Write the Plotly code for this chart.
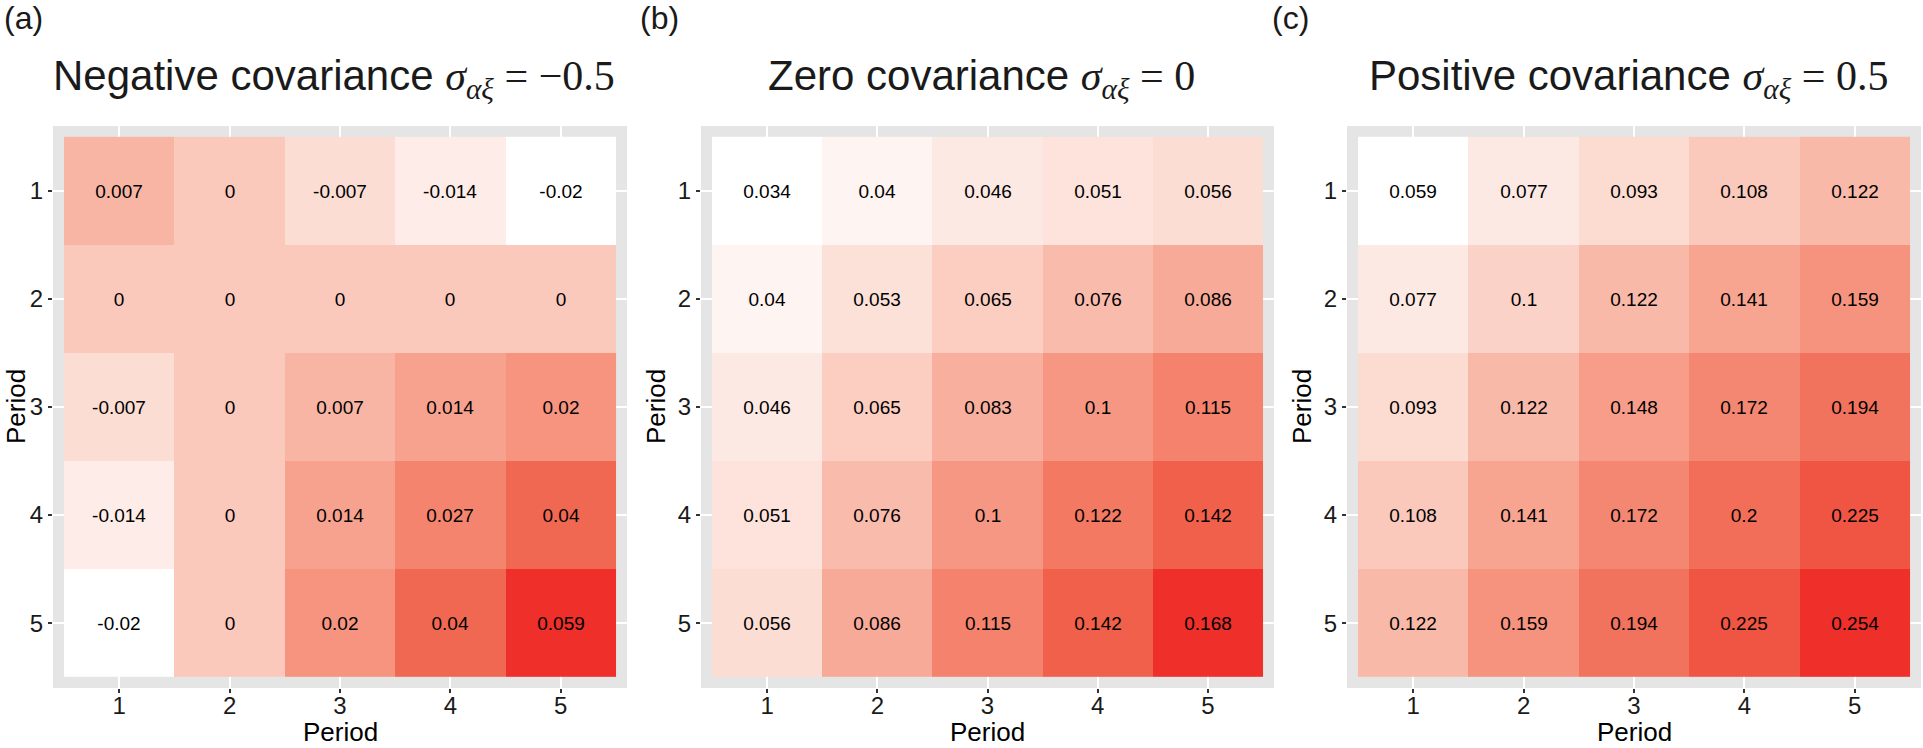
import plotly.graph_objects as go

# period labels on both axes
periods = [1, 2, 3, 4, 5]

# rows = period on y (1 at top), columns = period on x
neg_cov = [
    [0.007, 0, -0.007, -0.014, -0.02],
    [0, 0, 0, 0, 0],
    [-0.007, 0, 0.007, 0.014, 0.02],
    [-0.014, 0, 0.014, 0.027, 0.04],
    [-0.02, 0, 0.02, 0.04, 0.059],
]
zero_cov = [
    [0.034, 0.04, 0.046, 0.051, 0.056],
    [0.04, 0.053, 0.065, 0.076, 0.086],
    [0.046, 0.065, 0.083, 0.1, 0.115],
    [0.051, 0.076, 0.1, 0.122, 0.142],
    [0.056, 0.086, 0.115, 0.142, 0.168],
]
pos_cov = [
    [0.059, 0.077, 0.093, 0.108, 0.122],
    [0.077, 0.1, 0.122, 0.141, 0.159],
    [0.093, 0.122, 0.148, 0.172, 0.194],
    [0.108, 0.141, 0.172, 0.2, 0.225],
    [0.122, 0.159, 0.194, 0.225, 0.254],
]

panel_labels = ['(a)', '(b)', '(c)']
panel_titles = ['Negative covariance', 'Zero covariance', 'Positive covariance']
cov_values = ['\u22120.5', '0', '0.5']

# white -> red, roughly like ggplot's lab-space gradient
reds = [
    [0.0, 'rgb(255,255,255)'],
    [0.09, 'rgb(253,233,227)'],
    [0.164, 'rgb(252,221,211)'],
    [0.388, 'rgb(248,170,152)'],
    [0.604, 'rgb(244,130,108)'],
    [0.806, 'rgb(240,96,74)'],
    [1.0, 'rgb(238,47,42)'],
]

W, H = 1923, 748
panel_px = [(53, 627), (701, 1274), (1347, 1921)]
label_px = [2, 638, 1270]
ytop, ybot = 126, 688
sans = 'Liberation Sans, Arial'

fig = go.Figure()
layout = dict(
    width=W, height=H,
    margin=dict(l=0, r=0, t=0, b=0),
    paper_bgcolor='white',
    plot_bgcolor='#E5E5E5',
    showlegend=False,
    font=dict(family=sans, color='#1a1a1a'),
)

annotations = []
for i, z in enumerate([neg_cov, zero_cov, pos_cov]):
    sfx = '' if i == 0 else str(i + 1)
    text = [['{:g}'.format(v) for v in row] for row in z]
    fig.add_trace(go.Heatmap(
        x=periods, y=periods, z=z,
        text=text, texttemplate='%{text}',
        textfont=dict(size=19, color='black', family=sans),
        colorscale=reds, showscale=False,
        xaxis='x' + sfx, yaxis='y' + sfx,
        hoverinfo='skip',
    ))
    x0, x1 = panel_px[i]
    axis_common = dict(
        showgrid=True, gridcolor='white', gridwidth=1.5,
        zeroline=False, showline=False,
        ticks='outside', ticklen=4, tickwidth=1.5, tickcolor='#333333',
        tickvals=periods, tickfont=dict(size=24, color='#1a1a1a'),
    )
    layout['xaxis' + sfx] = dict(
        axis_common, domain=[x0 / W, x1 / W], range=[0.4, 5.6],
        anchor='y' + sfx, ticklabelstandoff=-8,
    )
    layout['yaxis' + sfx] = dict(
        axis_common, domain=[(H - ybot) / H, (H - ytop) / H], range=[5.6, 0.4],
        anchor='x' + sfx,
    )
    # axis titles
    annotations.append(dict(
        text='Period', xref='paper', yref='paper',
        x=(x0 + x1) / 2 / W, y=(H - 732) / H, xanchor='center', yanchor='middle',
        showarrow=False, font=dict(size=26, color='black'),
    ))
    annotations.append(dict(
        text='Period', xref='paper', yref='paper', textangle=-90,
        x=max(x0 - 45, 16) / W, y=(H - (ytop + ybot) / 2) / H,
        xanchor='center', yanchor='middle',
        showarrow=False, font=dict(size=26, color='black'),
    ))
    # panel tag and title
    annotations.append(dict(
        text=panel_labels[i], xref='paper', yref='paper',
        x=label_px[i] / W, y=(H - 18) / H, xanchor='left', yanchor='middle',
        showarrow=False, font=dict(size=32, color='#1a1a1a'),
    ))
    title = (panel_titles[i] + ' <span style="font-family:\'Liberation Serif\'">'
             + '<i>\u03c3</i><sub><i>\u03b1\u03be</i></sub>&nbsp;=&nbsp;' + cov_values[i] + '</span>')
    annotations.append(dict(
        text=title, xref='paper', yref='paper',
        x=(x0 + x1) / 2 / W - 0.003, y=(H - 79) / H, xanchor='center', yanchor='middle',
        showarrow=False, font=dict(size=42, color='#1a1a1a'),
    ))

layout['annotations'] = annotations
fig.update_layout(layout)
fig.write_html('out.html', config={'displayModeBar': False},
               post_script="document.body.style.margin='0';")
